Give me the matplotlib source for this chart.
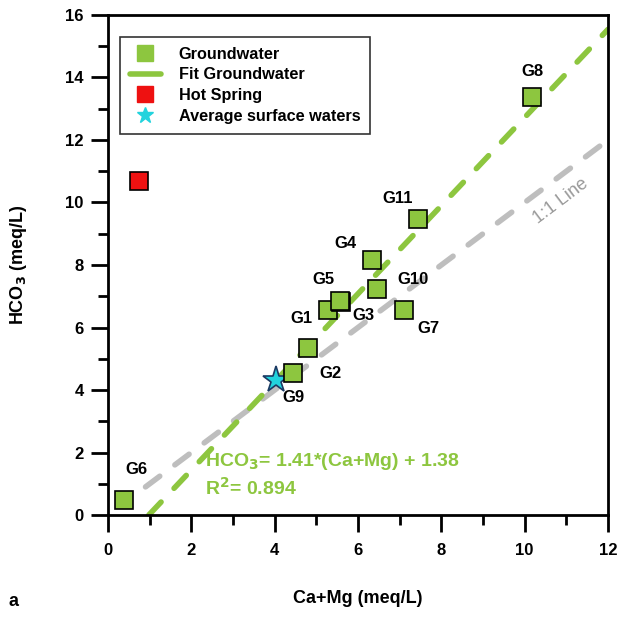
import matplotlib
matplotlib.use("Agg")
import matplotlib.pyplot as plt
from matplotlib.lines import Line2D
from matplotlib.ticker import MultipleLocator

plt.rcParams["font.family"] = ["Liberation Sans", "DejaVu Sans"]
plt.rcParams["font.weight"] = "bold"

# Dados
amostras = ["G1", "G2", "G3", "G4", "G5", "G6", "G7", "G8", "G9", "G10", "G11"]
ca_mg = [5.28, 4.80, 5.60, 6.34, 5.57, 0.38, 7.10, 10.18, 4.44, 6.46, 7.44]
hco3 = [6.56, 5.34, 6.83, 8.16, 6.86, 0.48, 6.56, 13.38, 4.53, 7.23, 9.47]

fonte_quente_x = [0.74]
fonte_quente_y = [10.69]

superficie_x = [4.02]
superficie_y = [4.32]

# Ajuste e linha 1:1
inclinacao = 1.41
intercepto = -1.38
ajuste_x = [0.98, 12.0]
linha11_x = [0.9, 12.0]

# deslocamento dos rótulos (pontos)
desloc = {
    "G1": (-19, -6), "G2": (16, -18), "G3": (16, -10), "G4": (-19, 12),
    "G5": (-12, 15), "G6": (9, 22), "G7": (18, -13), "G8": (0, 18),
    "G9": (0, -17), "G10": (26, 7), "G11": (-15, 15),
}

verde = "#8DC63F"
cinza = "#BEBEBE"

fig = plt.figure(figsize=(6.18, 6.17), dpi=100)
ax = fig.add_axes([0.1748, 0.1653, 0.809, 0.8104])

ax.plot(linha11_x, linha11_x, color=cinza, lw=4, dashes=(3.2, 3.4),
        dash_capstyle="round", zorder=1)
ax.plot(ajuste_x, [inclinacao * x + intercepto for x in ajuste_x], color=verde,
        lw=4, dashes=(3.2, 3.4), dash_capstyle="round", zorder=2)

ax.plot(superficie_x, superficie_y, marker="*", ls="none", ms=20,
        mfc="#22D3DD", mec="#1B3A63", mew=1.2, zorder=3)
ax.plot(ca_mg, hco3, marker="s", ls="none", ms=13.5, mfc=verde, mec="black",
        mew=1.2, zorder=4)
ax.plot(fonte_quente_x, fonte_quente_y, marker="s", ls="none", ms=13.5,
        mfc="#EE1111", mec="black", mew=1.2, zorder=4)

for nome, x, y in zip(amostras, ca_mg, hco3):
    ax.annotate(nome, (x, y), xytext=desloc[nome], textcoords="offset points",
                ha="center", va="center", fontsize=12, fontweight="bold", zorder=5)

ax.text(2.33, 1.70, "HCO$_\\mathbf{3}$= 1.41*(Ca+Mg) + 1.38", color=verde,
        fontsize=14, fontweight="bold", va="center", ha="left")
ax.text(2.33, 0.86, "R$^\\mathbf{2}$= 0.894", color=verde, fontsize=14,
        fontweight="bold", va="center", ha="left")
ax.text(10.87, 10.05, "1:1 Line", color="#9A9A9A", fontsize=13,
        fontweight="normal", rotation=37, ha="center", va="center",
        rotation_mode="anchor")

ax.set_xlim(0, 12)
ax.set_ylim(0, 16)
ax.xaxis.set_major_locator(MultipleLocator(2))
ax.xaxis.set_minor_locator(MultipleLocator(1))
ax.yaxis.set_major_locator(MultipleLocator(2))
ax.yaxis.set_minor_locator(MultipleLocator(1))
ax.tick_params(which="major", direction="out", length=12.5, width=2, labelsize=12)
ax.tick_params(which="minor", direction="out", length=7, width=2)
ax.tick_params(axis="x", which="major", pad=8)
ax.tick_params(axis="y", which="major", pad=5)
for lado in ax.spines.values():
    lado.set_linewidth(2)
for rotulo in ax.get_xticklabels() + ax.get_yticklabels():
    rotulo.set_fontweight("bold")

ax.set_xlabel("Ca+Mg (meq/L)", fontsize=13, fontweight="bold", labelpad=23)
ax.set_ylabel("HCO$_\\mathbf{3}$ (meq/L)", fontsize=13, fontweight="bold", labelpad=26)

itens = [
    Line2D([], [], marker="s", ls="none", ms=11, mfc=verde, mec=verde),
    Line2D([], [], color=verde, lw=4, solid_capstyle="round"),
    Line2D([], [], marker="s", ls="none", ms=11, mfc="#EE1111", mec="#EE1111"),
    Line2D([], [], marker="*", ls="none", ms=12, mfc="#22D3DD", mec="#22D3DD"),
]
nomes = ["Groundwater", "Fit Groundwater", "Hot Spring", "Average surface waters"]
leg = ax.legend(itens, nomes, loc="upper left", bbox_to_anchor=(0.024, 0.956),
                borderaxespad=0, frameon=True, fancybox=False, edgecolor="black",
                handlelength=1.9, handletextpad=1.1, labelspacing=0.35,
                borderpad=0.6, prop={"weight": "bold", "size": 11.7})
leg.get_frame().set_linewidth(1.2)

fig.text(0.022, 0.025, "a", fontsize=13, fontweight="bold", ha="center", va="center")

fig.savefig("out.png", dpi=100)
